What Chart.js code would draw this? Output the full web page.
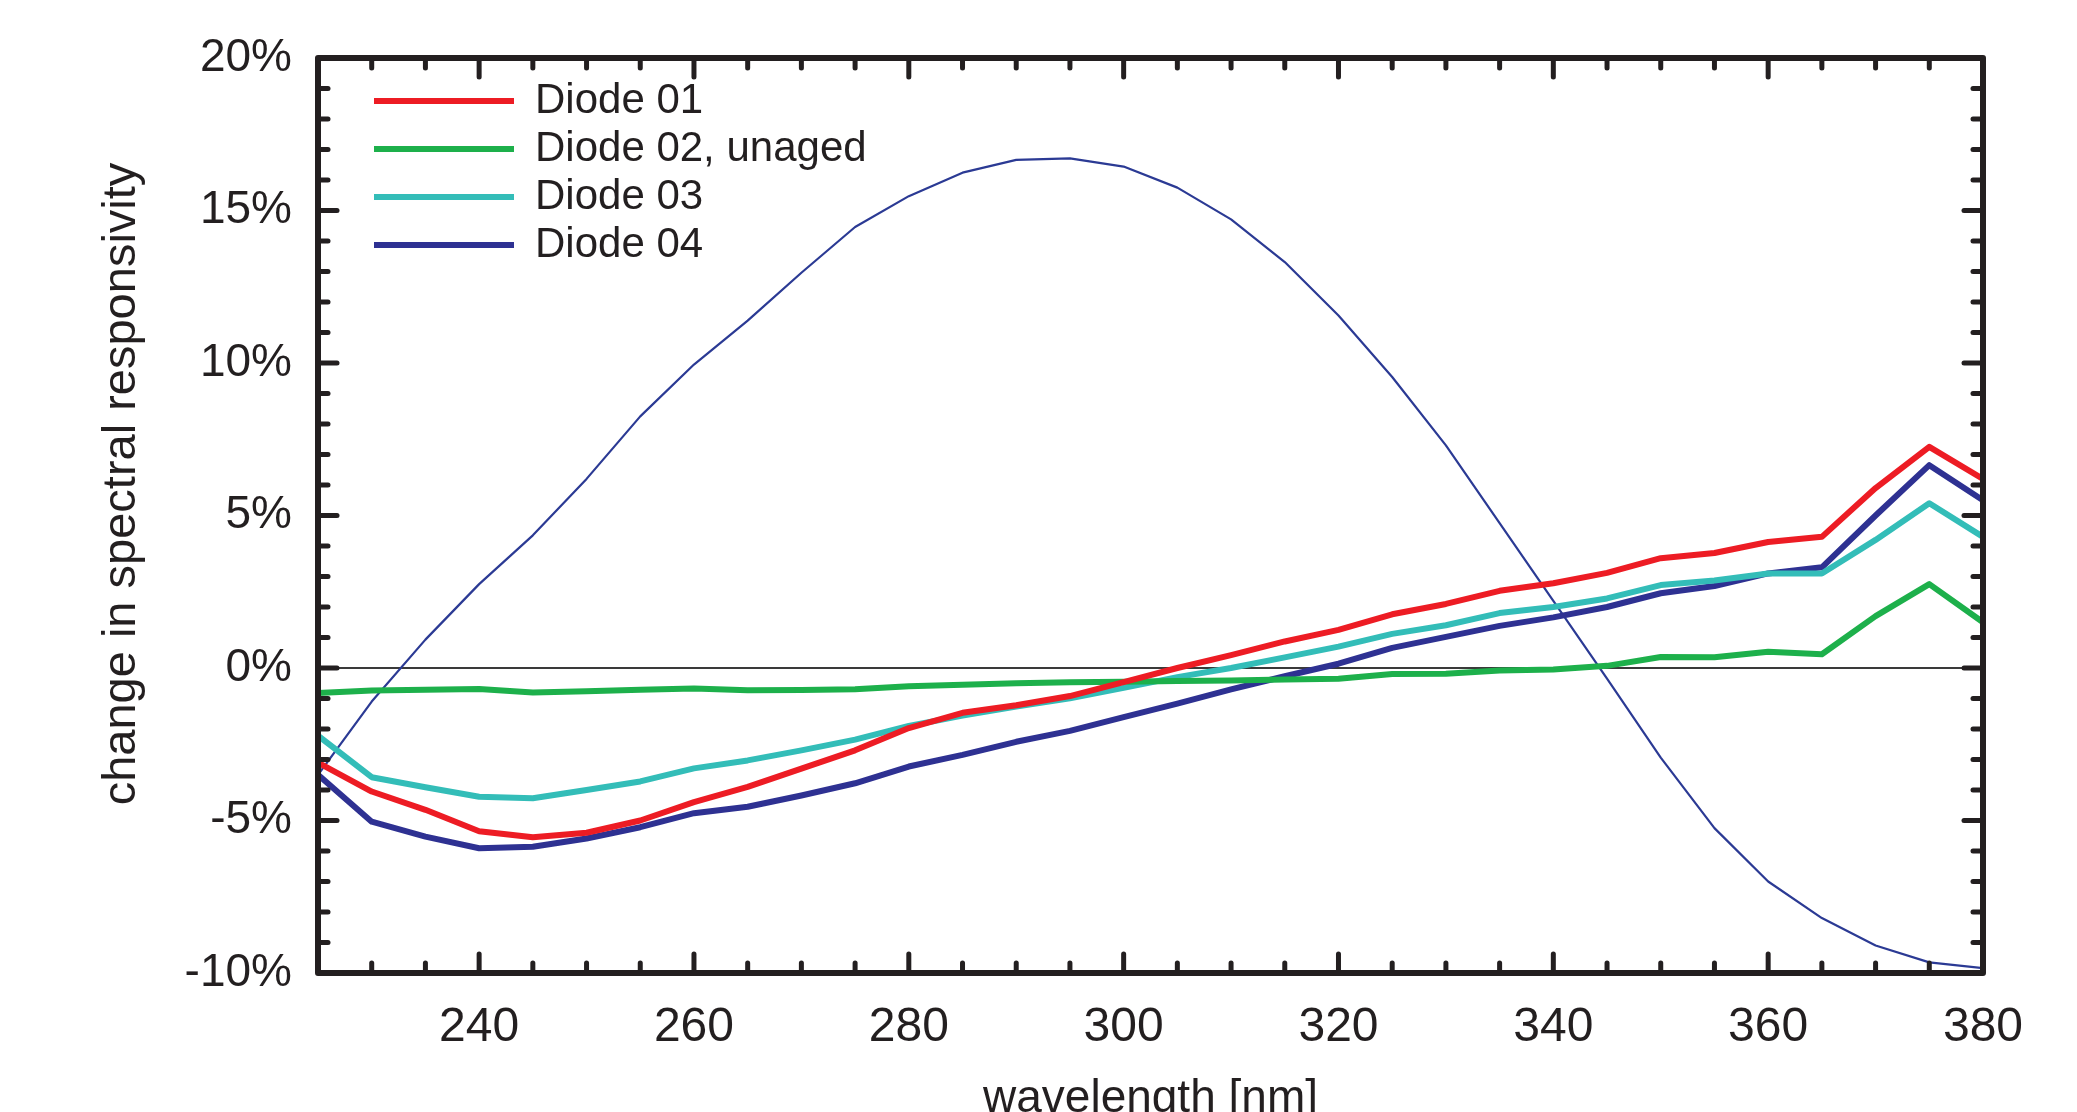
<!DOCTYPE html>
<html>
<head>
<meta charset="utf-8">
<title>Change in spectral responsivity</title>
<script src="https://cdn.jsdelivr.net/npm/chart.js@4.4.1/dist/chart.umd.min.js"></script>
<style>
  body { margin: 0; background: #fff; }
  #wrap { width: 2077px; height: 1112px; }
</style>
</head>
<body>
<div id="wrap"><canvas id="respChart" width="2077" height="1112"></canvas></div>
<script>
// wavelength grid [nm]
const wavelengths = [225, 230, 235, 240, 245, 250, 255, 260, 265, 270, 275, 280, 285, 290, 295, 300,
                     305, 310, 315, 320, 325, 330, 335, 340, 345, 350, 355, 360, 365, 370, 375, 380];

// change in spectral responsivity [%]
const diode01 = [-3.1, -4.05, -4.65, -5.35, -5.55, -5.4, -5.0, -4.4, -3.9, -3.3, -2.7, -1.97, -1.47, -1.22, -0.92, -0.46,
                 0.0, 0.42, 0.87, 1.25, 1.76, 2.1, 2.53, 2.78, 3.12, 3.6, 3.77, 4.13, 4.3, 5.9, 7.25, 6.2];
const diode02 = [-0.82, -0.74, -0.71, -0.69, -0.8, -0.76, -0.71, -0.67, -0.73, -0.72, -0.7, -0.6, -0.55, -0.5, -0.47, -0.45,
                 -0.43, -0.41, -0.38, -0.35, -0.2, -0.19, -0.08, -0.05, 0.07, 0.36, 0.35, 0.53, 0.45, 1.7, 2.75, 1.5];
const diode03 = [-2.22, -3.58, -3.91, -4.22, -4.27, -4.0, -3.72, -3.29, -3.03, -2.7, -2.35, -1.9, -1.56, -1.26, -0.99, -0.65,
                 -0.3, 0.0, 0.35, 0.7, 1.12, 1.4, 1.8, 2.0, 2.28, 2.72, 2.87, 3.1, 3.1, 4.2, 5.4, 4.3];
const diode04 = [-3.5, -5.04, -5.53, -5.91, -5.86, -5.59, -5.22, -4.76, -4.55, -4.18, -3.78, -3.23, -2.85, -2.42, -2.06, -1.61,
                 -1.17, -0.7, -0.27, 0.14, 0.66, 1.02, 1.38, 1.66, 2.0, 2.45, 2.69, 3.1, 3.3, 5.0, 6.65, 5.5];
// thin curve without legend entry
const thinCurve = [-3.5, -1.1, 0.93, 2.75, 4.35, 6.2, 8.25, 9.95, 11.39, 12.96, 14.46, 15.47, 16.24, 16.66, 16.71, 16.44,
                   15.75, 14.71, 13.31, 11.56, 9.54, 7.3, 4.75, 2.2, -0.35, -2.94, -5.25, -7.0, -8.2, -9.1, -9.65, -9.84];

const xTickValues = [240, 260, 280, 300, 320, 340, 360, 380];
const yTickValues = [-10, -5, 0, 5, 10, 15, 20];

const ink = '#231f20';
const fontFamily = '"Liberation Sans", Arial, Helvetica, sans-serif';

function toPoints(values) {
  return wavelengths.map((w, i) => ({ x: w, y: values[i] }));
}

function lineSet(label, values, color, width) {
  return {
    label: label,
    data: toPoints(values),
    borderColor: color,
    backgroundColor: color,
    borderWidth: width,
    borderJoinStyle: 'round',
    borderCapStyle: 'round',
    pointRadius: 0,
    tension: 0
  };
}

// frame, inward ticks on all four sides, rotated y title
const frameTicks = {
  id: 'frameTicks',
  afterLayout(chart) {
    // put the legend block at the upper left inside the plot
    chart.legend.left = chart.chartArea.left + 50;
    chart.legend.top = chart.chartArea.top + 16;
  },
  afterDatasetsDraw(chart) {
    const { ctx, chartArea: a, scales: { x, y } } = chart;
    ctx.save();
    ctx.strokeStyle = ink;
    ctx.lineCap = 'round';
    ctx.lineWidth = 5;
    const seg = (x1, y1, x2, y2) => {
      ctx.beginPath();
      ctx.moveTo(x1, y1);
      ctx.lineTo(x2, y2);
      ctx.stroke();
    };
    for (let v = x.min + 5; v < x.max; v += 5) {
      const px = x.getPixelForValue(v);
      const len = v % 20 === 0 ? 19 : 10;
      seg(px, a.bottom, px, a.bottom - len);
      seg(px, a.top, px, a.top + len);
    }
    for (let v = y.min + 1; v < y.max; v += 1) {
      const py = y.getPixelForValue(v);
      const len = v % 5 === 0 ? 19 : 10;
      seg(a.left, py, a.left + len, py);
      seg(a.right, py, a.right - len, py);
    }
    ctx.lineWidth = 6;
    ctx.lineJoin = 'round';
    ctx.strokeRect(a.left, a.top, a.right - a.left, a.bottom - a.top);

    ctx.translate(122, 484);
    ctx.rotate(-Math.PI / 2);
    ctx.fillStyle = ink;
    ctx.font = '47px ' + fontFamily;
    ctx.textAlign = 'center';
    ctx.textBaseline = 'middle';
    ctx.fillText('change in spectral responsivity', 0, 0);
    ctx.restore();
  }
};

const ctx = document.getElementById('respChart').getContext('2d');
const respChart = new Chart(ctx, {
  type: 'line',
  data: {
    datasets: [
      lineSet('Diode 01', diode01, '#ed1c24', 6),
      lineSet('Diode 02, unaged', diode02, '#1db04b', 6),
      lineSet('Diode 03', diode03, '#33bdb8', 6),
      lineSet('Diode 04', diode04, '#2e3192', 6),
      lineSet('thin curve', thinCurve, '#2b3a94', 2.2)
    ]
  },
  options: {
    responsive: false,
    animation: false,
    devicePixelRatio: 1,
    layout: { padding: { top: 58, right: 94, bottom: 0, left: 0 } },
    plugins: {
      tooltip: { enabled: false },
      legend: {
        position: 'chartArea',
        align: 'start',
        labels: {
          filter: (item) => item.datasetIndex < 4,
          usePointStyle: true,
          pointStyle: 'line',
          pointStyleWidth: 140,
          boxHeight: 42,
          padding: 6,
          color: ink,
          font: { family: fontFamily, size: 42 }
        }
      }
    },
    scales: {
      x: {
        type: 'linear',
        min: 225,
        max: 380,
        afterBuildTicks: (scale) => { scale.ticks = xTickValues.map(v => ({ value: v })); },
        afterFit: (scale) => { scale.height = 139; },
        grid: { display: false },
        border: { display: false },
        ticks: {
          padding: 18,
          color: ink,
          maxRotation: 0,
          font: { family: fontFamily, size: 48 }
        },
        title: {
          display: true,
          text: 'wavelength [nm]',
          color: ink,
          font: { family: fontFamily, size: 46 },
          padding: { top: 0, bottom: -15 }
        }
      },
      y: {
        min: -10,
        max: 20,
        afterBuildTicks: (scale) => { scale.ticks = yTickValues.map(v => ({ value: v })); },
        afterFit: (scale) => { scale.width = 318; },
        border: { display: false },
        grid: {
          drawTicks: false,
          lineWidth: 2,
          color: (c) => (c.tick && c.tick.value === 0 ? '#3a3a3a' : 'rgba(0,0,0,0)')
        },
        ticks: {
          padding: 26,
          color: ink,
          font: { family: fontFamily, size: 46 },
          callback: (v) => v + '%'
        }
      }
    }
  },
  plugins: [frameTicks]
});
</script>
</body>
</html>
